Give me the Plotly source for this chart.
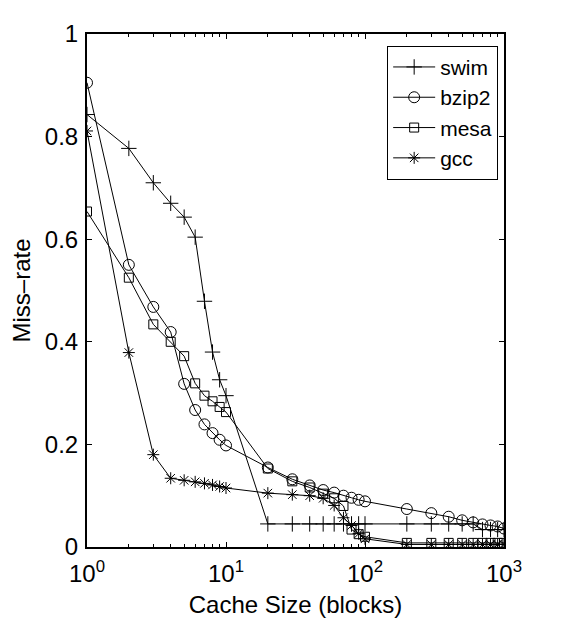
import plotly.graph_objects as go

cache_sizes = [1, 2, 3, 4, 5, 6, 7, 8, 9, 10,
               20, 30, 40, 50, 60, 70, 80, 90, 100,
               200, 300, 400, 500, 600, 700, 800, 900, 1000]

swim = [0.843, 0.777, 0.710, 0.670, 0.643, 0.604, 0.479, 0.380, 0.326, 0.295,
        0.045, 0.045, 0.045, 0.045, 0.045, 0.045, 0.045, 0.045, 0.045,
        0.045, 0.045, 0.045, 0.045, 0.045, 0.034, 0.034, 0.034, 0.034]

bzip2 = [0.905, 0.550, 0.468, 0.419, 0.318, 0.267, 0.239, 0.222, 0.209, 0.198,
         0.155, 0.132, 0.120, 0.111, 0.106, 0.100, 0.096, 0.092, 0.089,
         0.074, 0.066, 0.059, 0.052, 0.048, 0.044, 0.042, 0.040, 0.036]

mesa = [0.654, 0.525, 0.434, 0.400, 0.372, 0.319, 0.295, 0.284, 0.273, 0.263,
        0.153, 0.128, 0.116, 0.104, 0.095, 0.080, 0.034, 0.025, 0.020,
        0.008, 0.008, 0.008, 0.008, 0.008, 0.008, 0.008, 0.008, 0.008]

gcc = [0.811, 0.379, 0.180, 0.134, 0.130, 0.127, 0.124, 0.121, 0.118, 0.115,
       0.105, 0.102, 0.100, 0.095, 0.081, 0.057, 0.042, 0.026, 0.016,
       0.005, 0.005, 0.005, 0.005, 0.005, 0.005, 0.005, 0.005, 0.005]

x_tick_vals = [1, 10, 100, 1000]
x_tick_text = ["10<sup>0</sup>", "10<sup>1</sup>", "10<sup>2</sup>", "10<sup>3</sup>"]
y_tick_vals = [0, 0.2, 0.4, 0.6, 0.8, 1]
y_tick_text = ["0", "0.2", "0.4", "0.6", "0.8", "1"]

series = [
    ("swim", swim, dict(symbol="cross-thin-open", size=11)),
    ("bzip2", bzip2, dict(symbol="circle-open", size=11)),
    ("mesa", mesa, dict(symbol="square-open", size=9)),
    ("gcc", gcc, dict(symbol="asterisk-open", size=10)),
]

FONT = "Liberation Sans, Arial, sans-serif"

fig = go.Figure()
for name, vals, mk in series:
    fig.add_trace(go.Scatter(
        x=cache_sizes, y=vals, name=name, mode="lines+markers",
        line=dict(color="black", width=1),
        marker=dict(color="black", line=dict(color="black", width=1), **mk),
    ))

minor_vals = [m * 10 ** d for d in range(3) for m in range(2, 10)]

fig.update_layout(
    width=577, height=629,
    margin=dict(l=69, r=81, t=12, b=90),
    paper_bgcolor="white", plot_bgcolor="white",
    font=dict(family=FONT, size=24, color="black"),
    showlegend=True,
    legend=dict(
        x=0.986, y=0.977, xanchor="right", yanchor="top",
        bgcolor="white", bordercolor="black", borderwidth=1,
        font=dict(family=FONT, size=21, color="black"),
        itemwidth=42, tracegroupgap=0,
    ),
    xaxis=dict(
        type="log", range=[0, 3],
        tickvals=x_tick_vals, ticktext=x_tick_text,
        ticks="inside", ticklen=5, tickwidth=1, tickcolor="black",
        showline=True, linecolor="black", linewidth=2, mirror="ticks",
        showgrid=False, zeroline=False,
        minor=dict(tickvals=minor_vals, ticks="inside", ticklen=3,
                   tickcolor="black", tickwidth=1, showgrid=False),
        title=dict(text="Cache Size (blocks)", font=dict(size=24), standoff=10),
        tickfont=dict(size=24),
        ticklabelstandoff=4,
    ),
    yaxis=dict(
        range=[0, 1],
        tickvals=y_tick_vals, ticktext=y_tick_text,
        ticks="inside", ticklen=5, tickwidth=1, tickcolor="black",
        showline=True, linecolor="black", linewidth=2, mirror="ticks",
        showgrid=False, zeroline=False,
        title=dict(text="Miss\u2013rate", font=dict(size=24), standoff=8),
        tickfont=dict(size=24),
        ticklabelstandoff=2,
    ),
)

fig.write_html("out.html")
